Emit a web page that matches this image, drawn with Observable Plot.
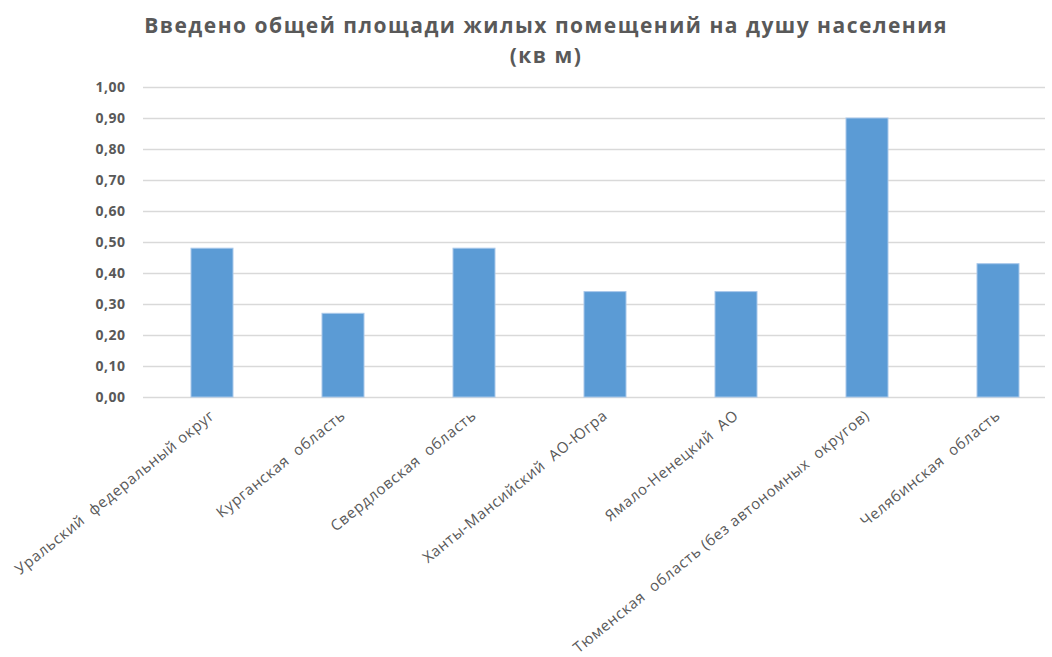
<!DOCTYPE html>
<html>
<head>
<meta charset="utf-8">
<script src="https://cdn.jsdelivr.net/npm/d3@7"></script>
<script src="https://cdn.jsdelivr.net/npm/@observablehq/plot@0.6"></script>
<style>
  body { margin: 0; background: #fff; font-family: "Open Sans", sans-serif; }
  #title { width: 1052px; height: 70px; text-align: center; color: #595959; font-weight: bold; font-size: 21px; letter-spacing: 1.5px; line-height: 30px; padding-top: 10px; box-sizing: border-box; padding-left: 40px; }
  #chart svg g[aria-label="x-axis tick label"] text { letter-spacing: 0.7px; }
  #chart svg g[aria-label="y-axis tick label"] text { letter-spacing: 0.5px; }
</style>
</head>
<body>
<div id="title">Введено общей площади жилых помещений на душу населения<br>(кв м)</div>
<div id="chart"></div>
<script>
const regions = [
  "Уральский  федеральный округ",
  "Курганская  область",
  "Свердловская  область",
  "Ханты-Мансийский  АО-Югра",
  "Ямало-Ненецкий  АО",
  "Тюменская  область (без автономных  округов)",
  "Челябинская  область"
];
const values = [0.48, 0.27, 0.48, 0.34, 0.34, 0.90, 0.43];
const yTicks = [0, 0.1, 0.2, 0.3, 0.4, 0.5, 0.6, 0.7, 0.8, 0.9, 1.0];

const data = regions.map((r, i) => ({region: r, value: values[i]}));
const fmt = d => d.toFixed(2).replace(".", ",");

const chart = Plot.plot({
  width: 1052,
  height: 587,
  marginLeft: 143,
  marginRight: 7,
  marginTop: 17,
  marginBottom: 260,
  style: {fontFamily: "'Open Sans', sans-serif", color: "#595959", background: "#fff"},
  x: {domain: regions, range: [143, 1066], paddingInner: 0.68, paddingOuter: 0.34, label: null},
  y: {domain: [0, 1], ticks: yTicks, label: null},
  marks: [
    Plot.gridY(yTicks, {stroke: "#d9d9d9", strokeOpacity: 1, strokeWidth: 1.5}),
    Plot.barY(data, {x: "region", y: "value", fill: "#5b9bd5", stroke: "#a9c8ea", strokeWidth: 1}),
    Plot.axisY(yTicks, {tickSize: 0, tickPadding: 18, tickFormat: fmt, fontSize: 14, fontWeight: "bold", fill: "#595959", label: null}),
    Plot.axisX({tickSize: 0, tickPadding: 16, tickRotate: -39, fontSize: 15, fill: "#595959", label: null})
  ]
});
document.getElementById("chart").appendChild(chart);
</script>
</body>
</html>
